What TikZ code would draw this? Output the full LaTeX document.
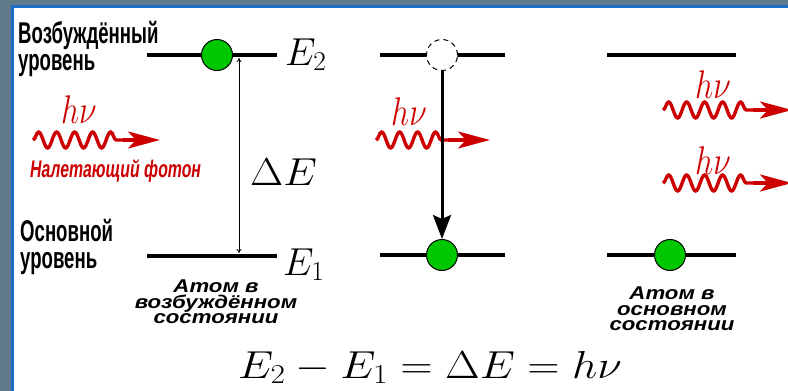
\RequirePackage{fix-cm}
\documentclass[tikz,border=0pt]{standalone}
\usepackage[no-math]{fontspec}
\usepackage{graphicx}
\newfontfamily\condfont[FakeStretch=0.62]{Liberation Sans}
\newfontfamily\condit[FakeStretch=0.66]{Liberation Sans}
\newfontfamily\wideit[FakeStretch=1.2]{Liberation Sans}
\usetikzlibrary{arrows.meta,decorations.pathmorphing}
\definecolor{photred}{RGB}{204,0,0}
\definecolor{atomgreen}{RGB}{0,200,0}
\definecolor{bgslate}{RGB}{96,122,138}
\definecolor{frameblue}{RGB}{30,110,200}
\begin{document}
\begin{tikzpicture}[x=1pt,y=-1pt,
  level/.style={line width=3.5pt},
  atom/.style={circle,draw=black,line width=1pt,fill=atomgreen,minimum size=31pt,inner sep=0pt},
  hole/.style={circle,draw=black,line width=1pt,dash pattern=on 5pt off 4pt,fill=white,minimum size=31pt,inner sep=0pt},
  wave/.style={photred,line width=3.4pt,decorate,decoration={snake,amplitude=8pt,segment length=18pt}},
  photarrow/.style={photred,line width=3.4pt,-{Stealth[length=32pt,width=17pt,inset=8pt]}},
  mathlbl/.style={inner sep=0pt,font=\fontsize{39}{40}\selectfont},
  hnu/.style={inner sep=0pt,text=photred,font=\fontsize{40}{40}\selectfont},
  sidelbl/.style={inner sep=0pt,align=left,font=\condfont\bfseries\fontsize{30}{27}\selectfont},
  atomlbl/.style={inner sep=0pt,align=center,font=\wideit\bfseries\itshape\fontsize{18.5}{15.5}\selectfont},
  photlbl/.style={inner sep=0pt,text=photred,font=\condit\bfseries\itshape\fontsize{24}{26}\selectfont}
]
\useasboundingbox (0,0) rectangle (788,391);
\fill[bgslate] (0,0) rectangle (788,391);
\fill[white] (14,8) rectangle (788,391);
\draw[frameblue,line width=3pt] (12.5,391) -- (12.5,6.5) -- (788,6.5);

% energy levels
\coordinate (A2a) at (147,55); \coordinate (A2b) at (277,55);
\coordinate (A1a) at (147,256); \coordinate (A1b) at (277,256);
\coordinate (B2a) at (380,55); \coordinate (B2b) at (505,55);
\coordinate (B1a) at (380,255); \coordinate (B1b) at (505,255);
\coordinate (C2a) at (607,55); \coordinate (C2b) at (736,55);
\coordinate (C1a) at (607,255); \coordinate (C1b) at (736,255);
\draw[level] (A2a) -- (A2b);
\draw[level] (A1a) -- (A1b);
\draw[level] (B2a) -- (B2b);
\draw[level] (B1a) -- (B1b);
\draw[level] (C2a) -- (C2b);
\draw[level] (C1a) -- (C1b);

% atoms
\node[atom] (atomA) at (217,55) {};
\node[hole] (holeB) at (442,55) {};
\node[atom] (atomB) at (442,255) {};
\node[atom] (atomC) at (670,255) {};

% Delta E arrow
\coordinate (dEt) at (239,58);
\coordinate (dEb) at (239,253);
\draw[line width=0.8pt,{To[length=4pt,width=5pt]}-{To[length=4pt,width=5pt]}] (dEt) -- (dEb);

% labels of levels
\node[mathlbl,anchor=base west] (E2) at (285,65) {$E_2$};
\node[mathlbl,anchor=base west] (E1) at (283,275) {$E_1$};
\node[mathlbl,anchor=base west] (dE) at (250,185) {\scalebox{1.1}[1]{$\Delta E$}};

% photons
\coordinate (p1a) at (33,140); \coordinate (p1b) at (123,140); \coordinate (p1c) at (160,140);
\draw[wave] (p1a) -- (p1b);
\draw[photarrow] (p1b) -- (p1c);
\node[hnu,anchor=base] (hn1) at (79,123) {\scalebox{0.8}[1]{$h\nu$}};

\coordinate (p2a) at (376,140); \coordinate (p2b) at (448,140); \coordinate (p2c) at (490,140);
\draw[wave] (p2a) -- (p2b);
\draw[photarrow] (p2b) -- (p2c);
\node[hnu,anchor=base] (hn2) at (409,125) {\scalebox{0.8}[1]{$h\nu$}};

\coordinate (p3a) at (663,110); \coordinate (p3b) at (753,110); \coordinate (p3c) at (792,110);
\draw[wave] (p3a) -- (p3b);
\draw[photarrow] (p3b) -- (p3c);
\node[hnu,anchor=base] (hn3) at (713,98) {\scalebox{0.8}[1]{$h\nu$}};

\coordinate (p4a) at (663,183); \coordinate (p4b) at (753,183); \coordinate (p4c) at (792,183);
\draw[wave] (p4a) -- (p4b);
\draw[photarrow] (p4b) -- (p4c);
\node[hnu,anchor=base] (hn4) at (713,174) {\scalebox{0.8}[1]{$h\nu$}};

% transition arrow
\draw[line width=3pt,-{Stealth[length=24pt,width=18pt,inset=4pt]}] (holeB.south) -- (atomB.north);

% texts
\node[sidelbl,anchor=north west] (exc) at (18,21) {Возбуждённый\\уровень};
\node[sidelbl,anchor=north west] (gnd) at (20,219) {Основной\\уровень};
\node[photlbl,anchor=base west] (inc) at (30,177) {Налетающий фотон};
\node[atomlbl,anchor=north] (stA) at (216,280) {Атом в\\возбуждённом\\состоянии};
\node[atomlbl,anchor=north] (stC) at (672,287) {Атом в\\основном\\состоянии};
\node[inner sep=0pt,anchor=base west,font=\fontsize{39}{40}\selectfont] (formula) at (238,378) {\scalebox{1.15}[1]{$E_2 - E_1 = \Delta E = h\nu$}};
\end{tikzpicture}
\end{document}
